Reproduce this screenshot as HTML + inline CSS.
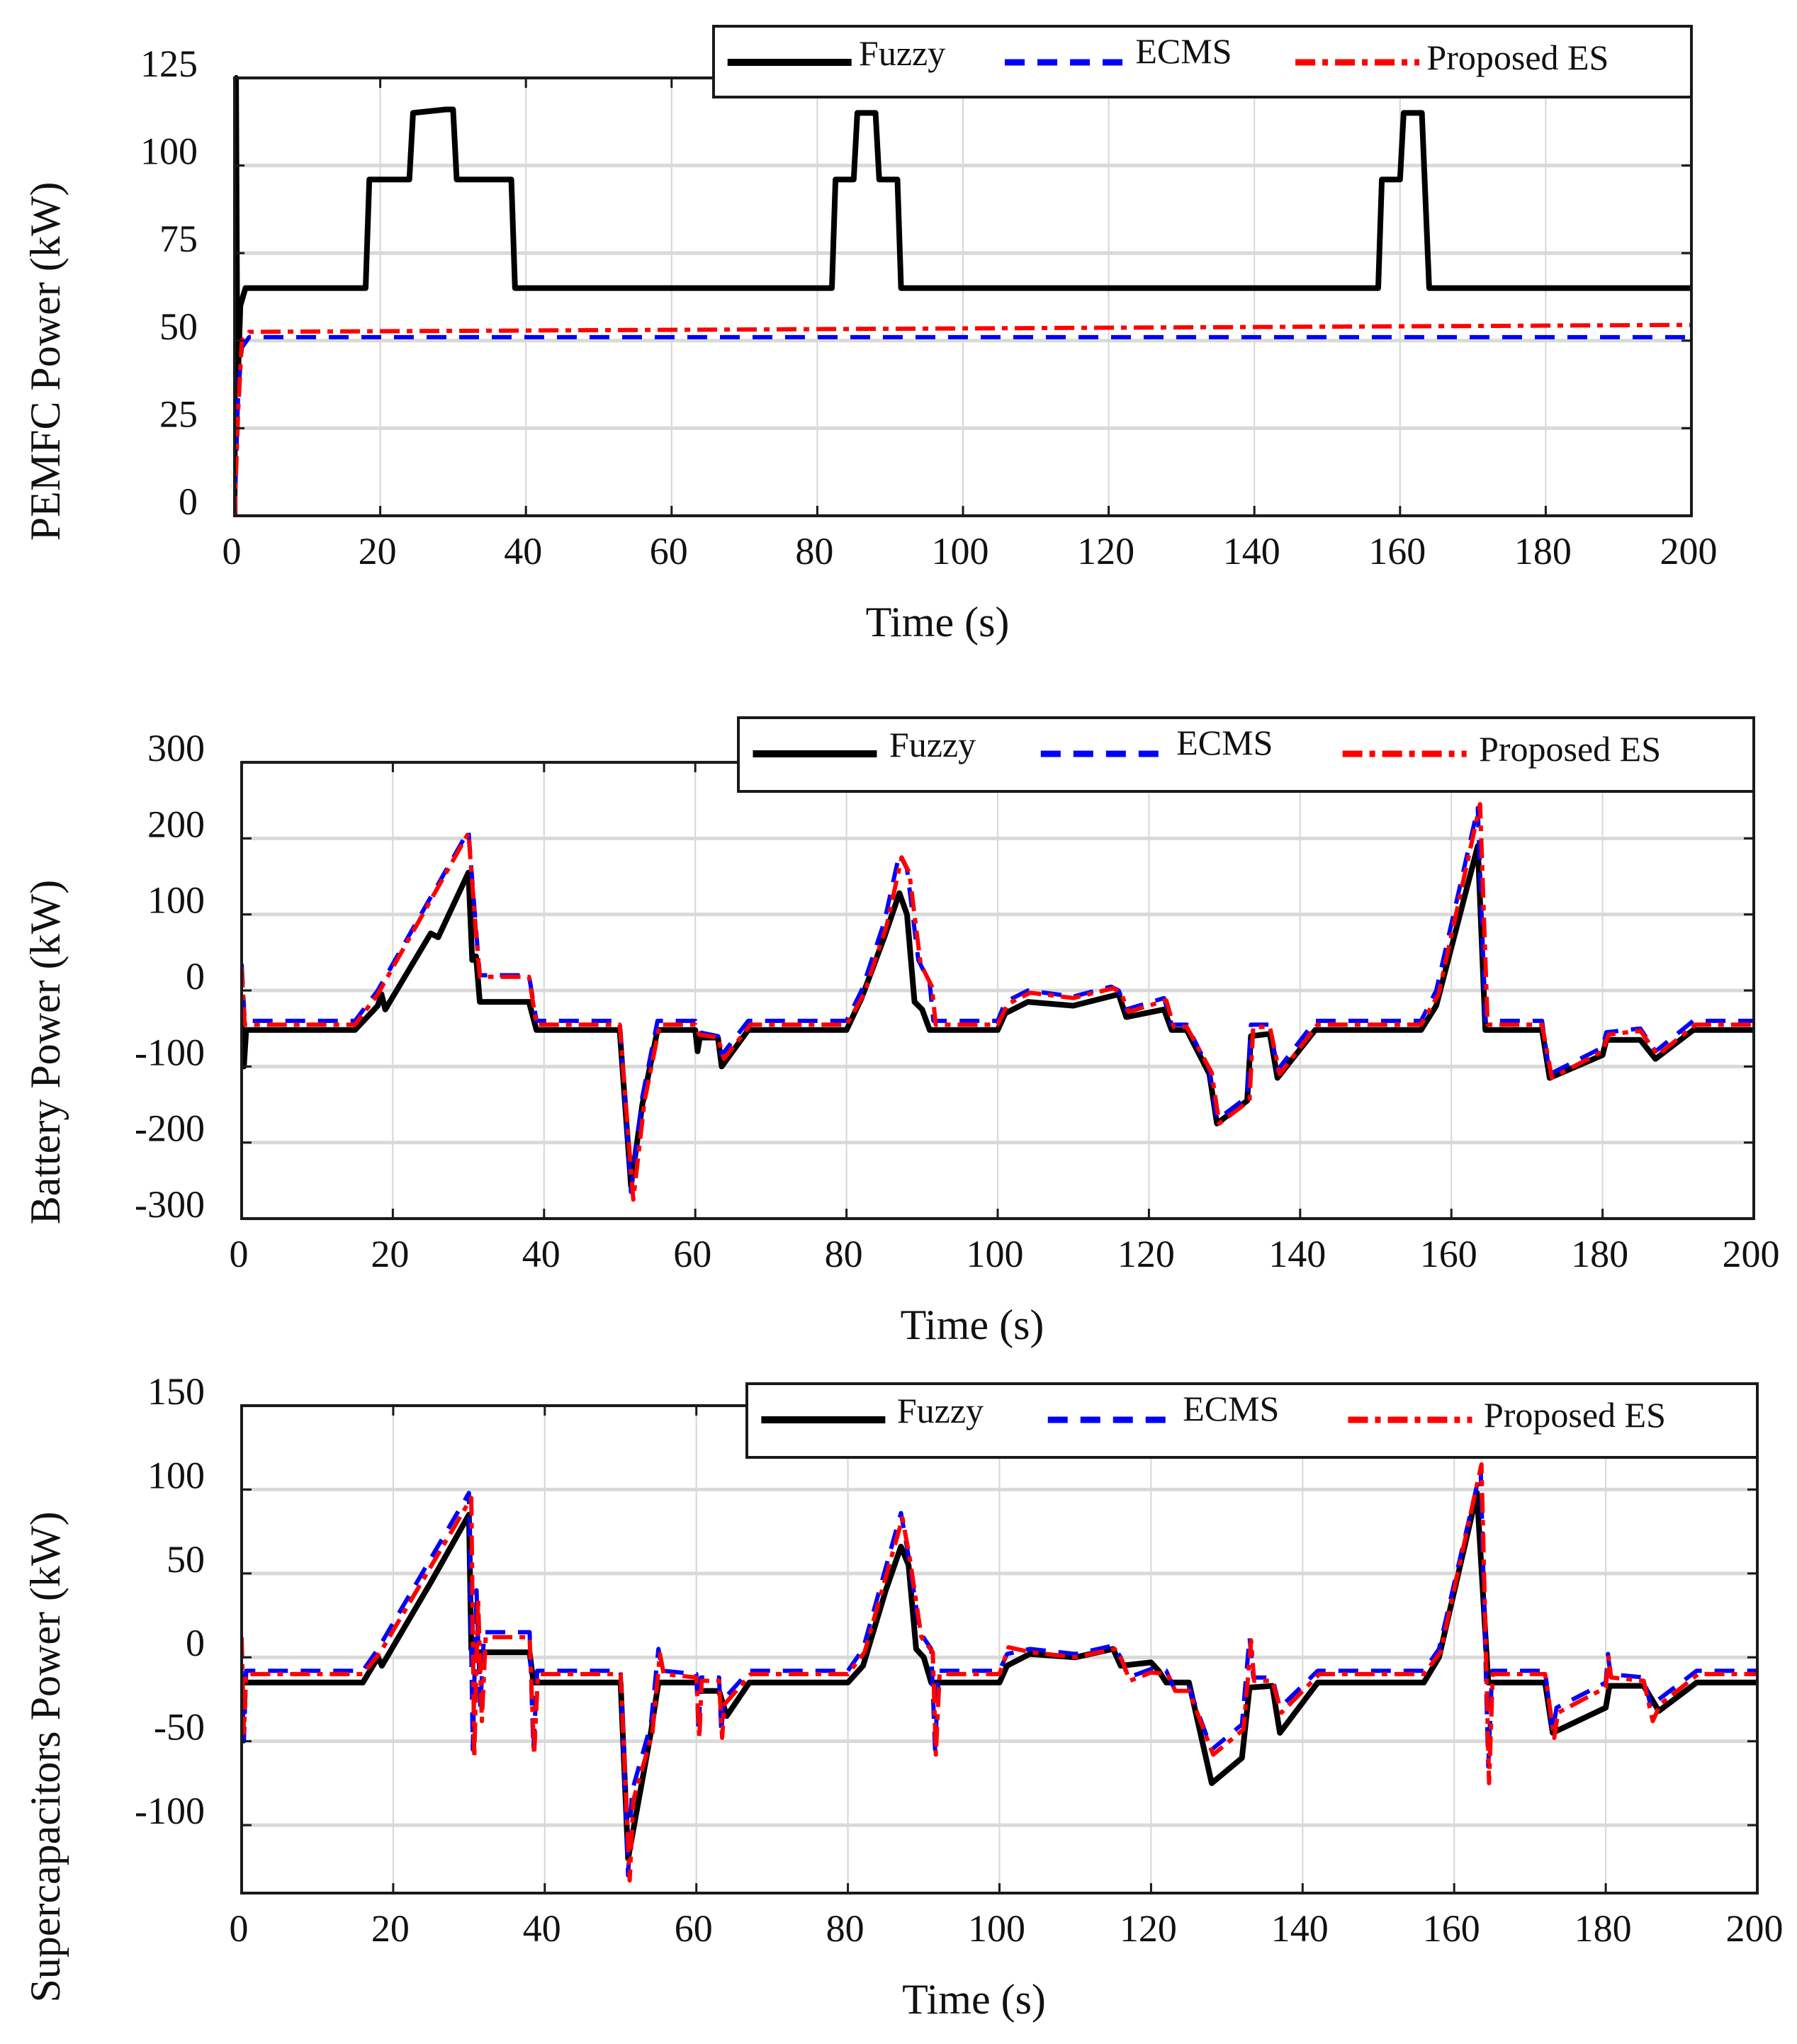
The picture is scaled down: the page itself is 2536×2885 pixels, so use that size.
<!DOCTYPE html>
<html><head><meta charset="utf-8">
<style>
html,body{margin:0;padding:0;background:#fff;}
svg{display:block;}
text{font-family:"Liberation Serif",serif;fill:#111;}
</style></head>
<body>
<svg id="fig" width="2536" height="2885" viewBox="0 0 2536 2885" xmlns="http://www.w3.org/2000/svg"></svg>
<script>
// ---------- Chart 1: PEMFC power ----------
const p1FuzzyT = [0,0.2,0.4,0.8,1.5,18,18.5,24,24.5,29,30,30.5,38,38.5,82,82.5,85,85.5,88,88.5,91,91.5,157,157.5,160,160.5,163,164,200];
const p1FuzzyV = [0,125,35,60,65,65,96,96,115,116,116,96,96,65,65,96,96,115,115,96,96,65,65,96,96,115,115,65,65];
const p1EcmsT = [0,0.5,1,2,200];
const p1EcmsV = [0,35,48,51,51];
const p1PesT = [0,0.5,1,2,200];
const p1PesV = [0,30,50,52.5,54.5];
const p1YTicks = [0,25,50,75,100,125];
const p1YLabels = ["0","25","50","75","100","125"];

// ---------- Chart 2: Battery power ----------
const p2FuzzyT = [0,0.3,0.6,15,18,18.5,19,25,26,30,30.5,31,31.5,38,39,50,51.5,53,55,60,60.3,60.6,63,63.5,67,80,82,85,87,88,89,90,91,100,101,104,110,116,117,122,123,125,128,129,133,133.5,136,137,142,156,158,163.5,164.5,172,173,180,180.5,185,187,192,200];
const p2FuzzyV = [-40,-100,-52,-52,-20,-5,-25,75,70,155,40,45,-15,-15,-52,-52,-257,-150,-52,-52,-80,-62,-62,-100,-52,-52,-10,70,128,100,-15,-25,-52,-52,-30,-15,-20,-5,-35,-25,-52,-52,-110,-175,-145,-60,-57,-115,-52,-52,-20,190,-52,-52,-115,-85,-65,-65,-90,-52,-52];
const p2EcmsT = [0,0.4,15,18,30,31,31.5,38,39,50,51.5,53,55,60,60.5,63,63.5,67,80,82,85,87,88,89.5,91,91.5,100,101,104,110,115,116,117,122,123,125,128,129,133,133.5,136,137,142,156,158,163.5,164.5,172,173,180,180.5,185,187,192,200];
const p2EcmsV = [35,-40,-40,0,210,80,20,20,-40,-40,-265,-140,-40,-40,-55,-60,-85,-40,-40,0,90,180,160,40,10,-40,-40,-15,0,-8,5,0,-25,-10,-45,-45,-105,-170,-140,-45,-45,-105,-40,-40,0,240,-40,-40,-110,-75,-55,-50,-80,-40,-40];
const p2PesT = [0,0.4,15,18,30,31,31.5,38,39,50,51.8,53.3,55.3,60,60.5,63,63.8,67.3,80,82.3,85.3,87.3,88.3,89.8,91.3,91.8,100,101.3,104.3,110,115.3,116.3,117.3,122.3,123.3,125,128.3,129.3,133.3,133.8,136,137.3,142.3,156,158.3,163.8,164.8,172,173.3,180,180.8,185,187.3,192.3,200];
const p2PesV = [30,-45,-45,-5,207,75,18,18,-45,-45,-275,-145,-45,-45,-58,-62,-90,-45,-45,-5,85,175,155,35,5,-45,-45,-18,-3,-10,3,-3,-28,-13,-48,-48,-108,-175,-145,-48,-48,-110,-45,-45,-5,245,-45,-45,-115,-80,-58,-53,-85,-45,-45];
const p2YTicks = [-300,-200,-100,0,100,200,300];
const p2YLabels = ["-300","-200","-100","0","100","200","300"];

// ---------- Chart 3: Supercapacitors power ----------
const p3FuzzyT = [0,16,18,18.5,25,30,30.3,31,38,38.5,50,51,54,55,60,60.5,63,64,67,80,82,85,87,88,89,90,91,100,101,104,110,115,116,120,121,122,125,128,132,133,136,137,142,156,158,163,164.5,172,173,180,180.5,185,187,192,200];
const p3FuzzyV = [-15,-15,0,-5,45,85,5,3,3,-15,-15,-120,-45,-15,-15,-20,-20,-35,-15,-15,-5,40,66,55,5,0,-15,-15,-5,2,0,5,-5,-3,-8,-15,-15,-75,-60,-18,-17,-45,-15,-15,0,98,-15,-15,-45,-30,-17,-17,-32,-15,-15];
const p3EcmsT = [0,0.3,0.6,16,18,30,30.5,31,31.5,32,38,38.5,39,50,51,51.5,54,55,55.5,60,60.3,60.6,63,63.3,63.6,67,80,82,87,88,89.5,91,91.5,92,100,101,104,110,115,116,117,120,122,123,125,128,132,133,133.5,136,137,142,156,158,163.5,164.5,165,172,173,173.5,180,180.3,180.6,185,186,187,192,200];
const p3EcmsV = [-8,-50,-8,-8,5,98,-55,40,-30,15,15,-55,-8,-8,-130,-80,-40,5,-8,-10,-45,-12,-12,-45,-25,-8,-8,5,86,60,15,5,-55,-8,-8,2,5,2,7,0,-12,-7,-8,-18,-18,-55,-40,12,-12,-12,-30,-8,-8,5,112,-65,-8,-8,-45,-30,-15,2,-10,-12,-30,-25,-8,-8];
const p3PesT = [0,0.3,0.6,16,18.3,30.3,30.7,31.2,31.7,32.2,38,38.6,39.1,50,51.2,51.7,54.2,55.2,55.7,60,60.4,60.7,63,63.4,63.7,67.2,80,82.2,87.2,88.2,89.7,91.2,91.6,92.1,100,101.2,104.2,110,115.2,116.2,117.2,120,122.2,123.2,125,128.2,132.2,133.2,133.6,136,137.2,142.2,156,158.2,163.6,164.6,165.1,172,173.2,173.7,180,180.4,180.7,185,186.2,187.2,192.2,200];
const p3PesV = [12,-45,-10,-10,3,95,-60,35,-38,12,12,-58,-10,-10,-133,-85,-45,2,-10,-12,-48,-14,-14,-48,-28,-10,-10,3,83,58,12,3,-58,-10,-10,6,3,0,5,-2,-14,-9,-10,-20,-20,-58,-43,10,-14,-14,-33,-10,-10,3,115,-75,-10,-10,-48,-33,-18,0,-12,-14,-38,-28,-10,-10];
const p3YTicks = [-100,-50,0,50,100,150];
const p3YLabels = ["-100","-50","0","50","100","150"];

const xTicks = [0,20,40,60,80,100,120,140,160,180,200];
const xLabels = ["0","20","40","60","80","100","120","140","160","180","200"];

const NS = "http://www.w3.org/2000/svg";
const svg = document.getElementById("fig");
function mk(tag, attrs, parent){
  const e = document.createElementNS(NS, tag);
  for (const k in attrs) e.setAttribute(k, attrs[k]);
  (parent||svg).appendChild(e);
  return e;
}

function drawChart(cfg){
  const g = mk("g", {});
  
  
  const xs = v => cfg.L + (v - 0) / 200 * (cfg.R - cfg.L);
  const ys = v => cfg.B - (v - cfg.ymin) / (cfg.ymax - cfg.ymin) * (cfg.B - cfg.T);
  xTicks.forEach(t => {
    const l = mk("line", {x1:xs(t), x2:xs(t), y1:cfg.T, y2:cfg.B, stroke:"#d6d6d6", "stroke-width":2}, g);
    
    
  });
  cfg.yTicks.forEach(t => {
    const l = mk("line", {x1:cfg.L, x2:cfg.R, y1:ys(t), y2:ys(t), stroke:"#d9d9d9", "stroke-width":5}, g);
    
    
  });
  const clipId = cfg.name + "-clip";
  const cp = mk("clipPath", {id: clipId}, g);
  mk("rect", {x:cfg.L, y:cfg.T-20, width:cfg.R-cfg.L+6, height:cfg.B-cfg.T+20}, cp);
  const series = [
    {t:cfg.fT, v:cfg.fV, color:"#000", w:8, dash:"", n:"fuzzy-line"},
    {t:cfg.eT, v:cfg.eV, color:"#0000ff", w:6, dash:"28,18", n:"ecms-line"},
    {t:cfg.pT, v:cfg.pV, color:"#ff0000", w:6, dash:"28,10,8,10", n:"proposed-es-line"}
  ];
  series.forEach(s => {
    const d = s.t.map((t,i) => (i ? "L" : "M") + xs(t).toFixed(1) + "," + ys(s.v[i]).toFixed(1)).join(" ");
    const p = mk("path", {d:d, fill:"none", stroke:s.color, "stroke-width":s.w, "stroke-dasharray":s.dash, "stroke-linejoin":"round", "clip-path":"url(#"+clipId+")"}, g);
    
    
  });
  const box = mk("rect", {x:cfg.L, y:cfg.T, width:cfg.R-cfg.L, height:cfg.B-cfg.T, fill:"none", stroke:"#1a1a1a", "stroke-width":4}, g);
  
  
  xTicks.forEach((t,i) => {
    mk("line", {x1:xs(t), x2:xs(t), y1:cfg.B, y2:cfg.B-14, stroke:"#1a1a1a", "stroke-width":3}, g);
    mk("line", {x1:xs(t), x2:xs(t), y1:cfg.T, y2:cfg.T+14, stroke:"#1a1a1a", "stroke-width":3}, g);
    const tx = mk("text", {x:xs(t)-4, y:cfg.B+68, "font-size":54, "text-anchor":"middle"}, g);
    tx.textContent = xLabels[i];
    
    
  });
  cfg.yTicks.forEach((t,i) => {
    mk("line", {x1:cfg.L, x2:cfg.L+14, y1:ys(t), y2:ys(t), stroke:"#1a1a1a", "stroke-width":3}, g);
    mk("line", {x1:cfg.R, x2:cfg.R-14, y1:ys(t), y2:ys(t), stroke:"#1a1a1a", "stroke-width":3}, g);
    const tx = mk("text", {x:cfg.L-52, y:ys(t)-2, "font-size":54, "text-anchor":"end"}, g);
    tx.textContent = cfg.yLabels[i];
    
    
  });
  const xt = mk("text", {x:(cfg.L+cfg.R)/2-36, y:cfg.B+170, "font-size":60, "text-anchor":"middle"}, g);
  xt.textContent = "Time (s)";
  
  
  const yt = mk("text", {x:0, y:0, "font-size":60, "text-anchor":"middle", transform:"translate(84,"+cfg.ylabY+") rotate(-90)"}, g);
  yt.textContent = cfg.ylabel;
  
  
  const lg = mk("g", {}, g);
  
  
  mk("rect", {x:cfg.lx, y:cfg.ly, width:cfg.lw, height:cfg.lh, fill:"#fff", stroke:"#1a1a1a", "stroke-width":4}, lg);
  const k = cfg.lw / 1400;
  const ents = [
    {dx:20, tx:208, ty:55, label:"Fuzzy", color:"#000", dash:"", w:10},
    {dx:417, tx:604, ty:52, label:"ECMS", color:"#0000ff", dash:"28,18", w:9},
    {dx:833, tx:1021, ty:61, label:"Proposed ES", color:"#ff0000", dash:"28,10,8,10", w:9}
  ];
  ents.forEach(en => {
    const li = mk("line", {x1:cfg.lx+en.dx*k, x2:cfg.lx+en.dx*k+175, y1:cfg.ly+51, y2:cfg.ly+51, stroke:en.color, "stroke-width":en.w, "stroke-dasharray":en.dash}, lg);
    
    
    const te = mk("text", {x:cfg.lx+en.tx*k, y:cfg.ly+en.ty, "font-size":50}, lg);
    te.textContent = en.label;
    
    
  });
}

drawChart({name:"pemfc-chart", L:331, R:2387, T:110, B:728, ymin:0, ymax:125,
  yTicks:p1YTicks, yLabels:p1YLabels, ylabel:"PEMFC Power (kW)", ylabY:510,
  fT:p1FuzzyT, fV:p1FuzzyV, eT:p1EcmsT, eV:p1EcmsV, pT:p1PesT, pV:p1PesV,
  lx:1007, ly:37, lw:1380, lh:100});
drawChart({name:"battery-chart", L:341, R:2475, T:1076, B:1720, ymin:-300, ymax:300,
  yTicks:p2YTicks, yLabels:p2YLabels, ylabel:"Battery Power (kW)", ylabY:1485,
  fT:p2FuzzyT, fV:p2FuzzyV, eT:p2EcmsT, eV:p2EcmsV, pT:p2PesT, pV:p2PesV,
  lx:1042, ly:1013, lw:1433, lh:104});
drawChart({name:"supercap-chart", L:341, R:2480, T:1984, B:2672, ymin:-140.5, ymax:150,
  yTicks:p3YTicks, yLabels:p3YLabels, ylabel:"Supercapacitors Power (kW)", ylabY:2480,
  fT:p3FuzzyT, fV:p3FuzzyV, eT:p3EcmsT, eV:p3EcmsV, pT:p3PesT, pV:p3PesV,
  lx:1054, ly:1953, lw:1426, lh:104});
</script>
</body></html>
